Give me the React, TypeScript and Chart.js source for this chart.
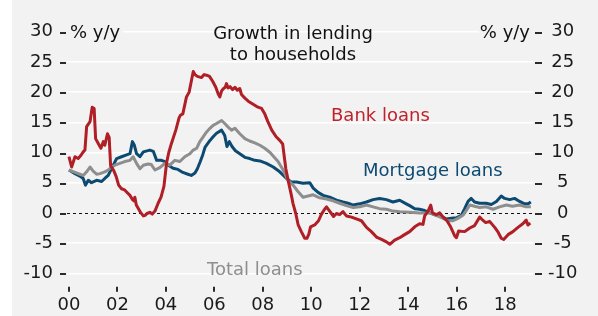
import React, { useEffect, useRef } from 'react';
import { Chart, registerables } from 'chart.js';

Chart.register(...registerables);

// ---- Data (decimal years, % y/y) ----
const bankYears = [
  2000.00, 2000.11, 2000.25, 2000.38, 2000.49, 2000.59, 2000.66, 2000.73, 2000.87, 2000.96,
  2001.04, 2001.10, 2001.21, 2001.32, 2001.42, 2001.48, 2001.59, 2001.66, 2001.72, 2001.85,
  2001.95, 2002.05, 2002.17, 2002.30, 2002.42, 2002.52, 2002.62, 2002.68, 2002.72, 2002.78,
  2002.88, 2002.97, 2003.07, 2003.15, 2003.22, 2003.34, 2003.44, 2003.55, 2003.68, 2003.80,
  2003.92, 2004.03, 2004.12, 2004.23, 2004.41, 2004.55, 2004.61, 2004.70, 2004.85, 2004.96,
  2005.06, 2005.13, 2005.20, 2005.30, 2005.47, 2005.58, 2005.68, 2005.80, 2005.93, 2006.06,
  2006.16, 2006.23, 2006.30, 2006.38, 2006.45, 2006.50, 2006.57, 2006.65, 2006.75, 2006.85,
  2006.95, 2007.05, 2007.12, 2007.26, 2007.40, 2007.60, 2007.80, 2007.95, 2008.08, 2008.20,
  2008.37, 2008.55, 2008.70, 2008.82, 2008.88, 2008.95, 2009.05, 2009.18, 2009.25, 2009.36,
  2009.46, 2009.59, 2009.73, 2009.82, 2009.90, 2009.97, 2010.14, 2010.30, 2010.42, 2010.55,
  2010.63, 2010.72, 2010.83, 2010.92, 2011.04, 2011.17, 2011.31, 2011.45, 2011.66, 2011.86,
  2012.07, 2012.28, 2012.48, 2012.69, 2012.90, 2013.10, 2013.24, 2013.44, 2013.65, 2013.85,
  2014.06, 2014.27, 2014.47, 2014.61, 2014.68, 2014.82, 2014.93, 2015.00, 2015.16, 2015.30,
  2015.44, 2015.60, 2015.75, 2015.92, 2015.99, 2016.08, 2016.33, 2016.54, 2016.74, 2016.95,
  2017.05, 2017.20, 2017.36, 2017.57, 2017.71, 2017.84, 2017.94, 2018.12, 2018.32, 2018.53,
  2018.73, 2018.87, 2018.94, 2019.04,
];
const bankValues = [
  9.3, 7.6, 9.3, 9.0, 9.5, 10.1, 10.4, 14.3, 15.1, 17.5,
  17.3, 12.3, 11.5, 10.7, 11.8, 11.2, 13.1, 12.5, 7.8, 7.0,
  6.0, 4.6, 4.0, 3.8, 3.3, 2.9, 2.2, 2.0, 2.6, 1.3,
  0.6, 0.0, -0.5, -0.4, -0.1, 0.1, -0.2, 0.3, 1.6, 2.6,
  4.4, 8.3, 10.0, 11.5, 13.7, 15.8, 16.2, 16.4, 19.2, 20.0,
  22.0, 23.4, 22.9, 22.6, 22.4, 22.9, 22.8, 22.6, 21.8, 20.8,
  19.7, 19.2, 20.2, 20.6, 20.8, 21.4, 20.7, 20.9, 20.4, 20.8,
  20.3, 20.6, 19.6, 19.0, 18.5, 18.0, 17.5, 17.3, 16.4, 15.2,
  13.7, 12.6, 12.0, 11.4, 9.5, 7.3, 5.3, 2.9, 1.5, -0.1,
  -2.0, -3.1, -4.2, -4.2, -3.5, -2.3, -2.0, -1.3, -0.2, 0.6,
  1.0, 0.5, -0.1, -0.6, -0.1, -0.3, 0.2, -0.5, -0.7, -1.0,
  -1.3, -2.4, -3.1, -4.0, -4.4, -4.8, -5.2, -4.5, -4.1, -3.6,
  -3.1, -2.3, -1.8, -1.9, -0.5, 0.3, 1.3, 0.0, -0.3, 0.0,
  -0.7, -1.3, -2.3, -3.8, -4.1, -3.0, -3.1, -2.5, -2.1, -0.7,
  -1.1, -1.6, -1.4, -2.4, -3.2, -4.2, -4.4, -3.6, -3.1, -2.4,
  -1.8, -1.2, -2.0, -1.7,
];

const mortgageYears = [
  2000.00, 2000.25, 2000.45, 2000.59, 2000.68, 2000.80, 2000.93, 2001.14, 2001.35, 2001.48,
  2001.62, 2001.83, 2001.97, 2002.17, 2002.38, 2002.52, 2002.62, 2002.70, 2002.79, 2002.93,
  2003.07, 2003.34, 2003.48, 2003.62, 2003.82, 2003.96, 2004.10, 2004.30, 2004.50, 2004.70,
  2004.91, 2005.05, 2005.20, 2005.30, 2005.42, 2005.52, 2005.62, 2005.82, 2005.95, 2006.09,
  2006.30, 2006.43, 2006.52, 2006.62, 2006.73, 2006.87, 2007.05, 2007.26, 2007.46, 2007.67,
  2007.88, 2008.15, 2008.43, 2008.70, 2008.98, 2009.18, 2009.39, 2009.66, 2009.94, 2010.08,
  2010.28, 2010.49, 2010.76, 2011.04, 2011.31, 2011.52, 2011.73, 2012.00, 2012.28, 2012.55,
  2012.82, 2013.10, 2013.37, 2013.65, 2013.92, 2014.06, 2014.27, 2014.47, 2014.68, 2014.89,
  2015.16, 2015.37, 2015.57, 2015.78, 2015.99, 2016.19, 2016.33, 2016.47, 2016.60, 2016.74,
  2016.95, 2017.22, 2017.43, 2017.64, 2017.84, 2017.98, 2018.19, 2018.39, 2018.60, 2018.80,
  2018.95, 2019.06,
];
const mortgageValues = [
  7.1, 6.5, 6.1, 5.7, 4.6, 5.4, 5.0, 5.4, 5.2, 5.7,
  6.2, 7.9, 9.0, 9.3, 9.6, 9.8, 11.8, 11.2, 9.8, 9.3,
  10.1, 10.4, 10.2, 8.7, 8.7, 8.5, 7.9, 7.4, 7.2, 6.7,
  6.4, 6.2, 6.6, 7.3, 8.5, 9.6, 10.9, 12.0, 12.6, 13.2,
  13.7, 12.8, 11.0, 11.8, 11.0, 10.3, 9.8, 9.2, 9.0, 8.7,
  8.6, 8.2, 7.6, 6.8, 5.7, 5.1, 5.1, 4.9, 5.0, 4.1,
  3.4, 2.9, 2.6, 2.1, 1.8, 1.6, 1.3, 1.5, 1.8, 2.2,
  2.4, 2.2, 1.8, 2.1, 1.5, 1.2, 0.7, 0.6, 0.4, 0.0,
  -0.4, -0.6, -1.0, -0.9, -0.8, -0.4, 0.7, 1.9, 2.4, 1.8,
  1.6, 1.6, 1.4, 1.9, 2.8, 2.4, 2.2, 2.4, 1.9, 1.5,
  1.5, 1.8,
];

const totalYears = [
  2000.00, 2000.25, 2000.45, 2000.59, 2000.73, 2000.87, 2001.00, 2001.14, 2001.28, 2001.48,
  2001.62, 2001.75, 2001.90, 2002.10, 2002.30, 2002.52, 2002.65, 2002.79, 2002.93, 2003.07,
  2003.27, 2003.40, 2003.55, 2003.75, 2003.96, 2004.16, 2004.37, 2004.58, 2004.78, 2004.99,
  2005.13, 2005.27, 2005.40, 2005.54, 2005.68, 2005.82, 2005.95, 2006.09, 2006.30, 2006.43,
  2006.57, 2006.71, 2006.85, 2007.05, 2007.26, 2007.46, 2007.67, 2007.88, 2008.08, 2008.30,
  2008.50, 2008.63, 2008.84, 2009.04, 2009.25, 2009.46, 2009.66, 2009.87, 2010.08, 2010.35,
  2010.63, 2010.90, 2011.17, 2011.45, 2011.73, 2012.00, 2012.28, 2012.55, 2012.82, 2013.10,
  2013.37, 2013.65, 2014.06, 2014.47, 2014.89, 2015.16, 2015.44, 2015.64, 2015.85, 2016.05,
  2016.26, 2016.40, 2016.54, 2016.74, 2016.95, 2017.22, 2017.50, 2017.77, 2018.05, 2018.30,
  2018.60, 2018.87, 2019.06,
];
const totalValues = [
  7.1, 6.7, 6.4, 6.2, 6.8, 7.6, 6.9, 6.4, 6.5, 6.8,
  7.1, 7.6, 7.9, 8.2, 8.5, 8.7, 9.3, 8.2, 7.3, 7.9,
  8.1, 8.0, 7.1, 7.5, 8.2, 7.9, 8.7, 8.5, 9.3, 9.8,
  10.4, 10.7, 11.8, 12.6, 13.4, 14.0, 14.5, 14.8, 15.3, 14.8,
  14.2, 13.7, 14.0, 13.1, 12.3, 11.9, 11.6, 11.2, 10.7, 10.0,
  9.1, 8.5, 7.1, 5.4, 4.6, 3.5, 2.6, 2.8, 3.0, 2.5,
  2.3, 2.0, 1.6, 1.2, 0.9, 1.0, 1.3, 1.0, 0.7, 0.6,
  0.3, 0.2, 0.1, 0.0, 0.0, -0.4, -0.9, -1.3, -1.3, -0.9,
  -0.4, 0.4, 1.3, 1.1, 0.9, 1.0, 0.6, 1.0, 1.3, 1.1,
  1.3, 1.0, 1.0,
];

const xTickYears = [2000, 2002, 2004, 2006, 2008, 2010, 2012, 2014, 2016, 2018];
const yTickValues = [-10, -5, 0, 5, 10, 15, 20, 25, 30];
const seriesNames = ['Bank loans', 'Total loans', 'Mortgage loans'];
const titleLines = ['Growth in lending', 'to households'];
const unitLabel = '% y/y';

const RED = '#b01e26';
const BLUE = '#0c4a72';
const GRAY = '#8e8e8e';
const BG = '#f2f2f2';
const FONT = '"DejaVu Sans", sans-serif';

export default function App() {
  const ref = useRef<HTMLCanvasElement>(null);

  useEffect(() => {
    document.body.style.margin = '0';
    const canvas = ref.current;
    if (!canvas) return;
    const zip = (xs: number[], ys: number[]) => xs.map((x, i) => ({ x, y: ys[i] }));

    const overlay = {
      id: 'overlay',
      beforeDatasetsDraw(chart: any) {
        const { ctx, chartArea, scales } = chart;
        const y0 = Math.round(scales.y.getPixelForValue(0)) + 0.5;
        ctx.save();
        ctx.strokeStyle = '#111';
        ctx.lineWidth = 1;
        ctx.setLineDash([3, 3]);
        ctx.beginPath();
        ctx.moveTo(chartArea.left, y0);
        ctx.lineTo(chartArea.right, y0);
        ctx.stroke();
        ctx.restore();
      },
      afterDraw(chart: any) {
        const ctx = chart.ctx;
        const area = chart.chartArea;
        const ys = chart.scales.y;
        const xs = chart.scales.x;
        ctx.save();
        ctx.setLineDash([]);
        ctx.strokeStyle = '#2b2b2b';
        ctx.lineWidth = 2;
        ctx.beginPath();
        for (const v of yTickValues) {
          const py = Math.round(ys.getPixelForValue(v)) + 1;
          ctx.moveTo(area.left - 7, py);
          ctx.lineTo(area.left - 1, py);
          ctx.moveTo(area.right + 2, py);
          ctx.lineTo(area.right + 9, py);
        }
        for (const v of xTickYears) {
          const px = Math.round(xs.getPixelForValue(v));
          ctx.moveTo(px, area.bottom + 13.5);
          ctx.lineTo(px, area.bottom + 18.5);
        }
        ctx.stroke();

        // unit labels with background
        ctx.font = `18px ${FONT}`;
        ctx.textBaseline = 'alphabetic';
        const w = ctx.measureText(unitLabel).width;
        const yTop = ys.getPixelForValue(30);
        ctx.fillStyle = BG;
        ctx.fillRect(area.left, yTop - 3, w + 6, 6);
        ctx.fillRect(area.right - w - 4, yTop - 3, w + 4, 6);
        ctx.fillStyle = '#111';
        ctx.textAlign = 'left';
        ctx.fillText(unitLabel, area.left + 3, 38);
        ctx.textAlign = 'right';
        ctx.fillText(unitLabel, area.right - 3, 38);
        // title
        ctx.textAlign = 'center';
        ctx.fillText(titleLines[0], 281, 38.5);
        ctx.fillText(titleLines[1], 281, 59.5);
        // series labels
        ctx.textAlign = 'left';
        ctx.fillStyle = '#c0222b';
        ctx.fillText(seriesNames[0], 319, 120.5);
        ctx.fillStyle = BLUE;
        ctx.fillText(seriesNames[2], 351, 176);
        ctx.fillStyle = GRAY;
        ctx.fillText(seriesNames[1], 195, 275);
        ctx.restore();
      },
    };

    const chart = new Chart(canvas, {
      type: 'line',
      data: {
        datasets: [
          { label: seriesNames[0], data: zip(bankYears, bankValues), borderColor: RED },
          { label: seriesNames[1], data: zip(totalYears, totalValues), borderColor: GRAY },
          { label: seriesNames[2], data: zip(mortgageYears, mortgageValues), borderColor: BLUE },
        ].map((d) => ({
          ...d,
          borderWidth: 3,
          pointRadius: 0,
          tension: 0,
          fill: false,
          borderJoinStyle: 'round' as const,
        })),
      },
      options: {
        animation: false,
        responsive: false,
        devicePixelRatio: 1,
        layout: { padding: { top: 31.7, bottom: 0, left: 0, right: 0 } },
        plugins: { legend: { display: false }, tooltip: { enabled: false } },
        scales: {
          x: {
            type: 'linear',
            min: 1999.92,
            max: 2019.15,
            afterBuildTicks: (scale: any) => {
              scale.ticks = xTickYears.map((v) => ({ value: v }));
            },
            afterFit: (scale: any) => {
              scale.height = 42.7;
            },
            grid: { display: false, drawTicks: false },
            border: { display: false },
            ticks: {
              autoSkip: false,
              maxRotation: 0,
              padding: 21,
              color: '#1a1a1a',
              font: { family: FONT, size: 18 },
              callback: (v: any) => String(v).slice(2),
            },
          },
          y: {
            type: 'linear',
            position: 'left',
            min: -10,
            max: 30,
            afterFit: (scale: any) => {
              scale.width = 55;
            },
            grid: {
              drawTicks: false,
              lineWidth: 1.5,
              color: (c: any) => (c.tick && c.tick.value === 0 ? 'rgba(0,0,0,0)' : '#ffffff'),
            },
            border: { display: false },
            ticks: {
              stepSize: 5,
              padding: 14,
              color: '#1a1a1a',
              font: { family: FONT, size: 18 },
            },
          },
          y2: {
            type: 'linear',
            position: 'right',
            min: -10,
            max: 30,
            afterFit: (scale: any) => {
              scale.width = 65;
            },
            grid: { drawOnChartArea: false, drawTicks: false },
            border: { display: false },
            ticks: {
              stepSize: 5,
              padding: 15,
              crossAlign: 'center',
              color: '#1a1a1a',
              font: { family: FONT, size: 18 },
            },
          },
        },
      },
      plugins: [overlay],
    });
    return () => chart.destroy();
  }, []);

  return (
    <div style={{ position: 'absolute', left: 0, top: 0, width: 598, height: 316, background: '#ffffff' }}>
      <canvas
        ref={ref}
        width={586}
        height={316}
        style={{ position: 'absolute', left: 12, top: 0, width: 586, height: 316, background: BG }}
      />
    </div>
  );
}
